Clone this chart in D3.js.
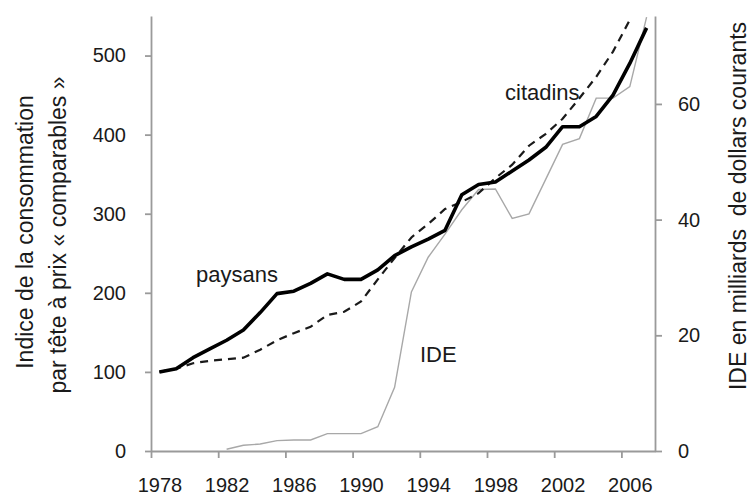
<!DOCTYPE html>
<html>
<head>
<meta charset="utf-8">
<script src="https://cdn.jsdelivr.net/npm/d3@7"></script>
<style>
  body { margin: 0; background: #fff; }
  svg text { font-family: "Liberation Sans", Arial, sans-serif; fill: #1a1a1a; }
  .axis path, .axis line { stroke: #9a9a9a; stroke-width: 1.8; }
  .axis text { font-size: 20px; }
  .title { font-size: 23px; white-space: pre; }
  .label { font-size: 22px; }
</style>
</head>
<body>
<svg id="chart"></svg>
<script>
// Data
var years = [1978, 1979, 1980, 1981, 1982, 1983, 1984, 1985, 1986, 1987,
             1988, 1989, 1990, 1991, 1992, 1993, 1994, 1995, 1996, 1997,
             1998, 1999, 2000, 2001, 2002, 2003, 2004, 2005, 2006, 2007];
var paysans = [100, 104, 118, 129, 140, 153, 175, 199, 202, 212,
               224, 217, 217, 229, 247, 258, 268, 279, 324, 337,
               340, 354, 368, 384, 410, 410, 423, 450, 490, 535];
var citadins = [100, 104, 111, 114, 116, 118, 128, 140, 149, 157,
                172, 176, 189, 217, 244, 270, 287, 306, 315, 326,
                345, 362, 386, 401, 420, 446, 473, 505, 545, null];
var ide = [null, null, null, null, 0.3, 1.0, 1.2, 1.8, 1.9, 1.9,
           3.0, 3.0, 3.0, 4.2, 11.0, 27.5, 33.5, 37.5, 41.7, 45.2,
           45.3, 40.2, 41.0, 47.0, 53.0, 54.0, 61.0, 61.0, 63.0, 75.0];

var xTickLabels = [1978, 1982, 1986, 1990, 1994, 1998, 2002, 2006];
var leftTicks = [0, 100, 200, 300, 400, 500];
var rightTicks = [0, 20, 40, 60];

var width = 753;
var height = 499;
var plot = {"left": 151, "right": 655, "top": 16, "bottom": 451};

var svg = d3.select("svg#chart")
  .attr("width", width)
  .attr("height", height);

// category axis: each year sits in the middle of its slot
var xScale = d3.scaleLinear()
  .domain([years[0] - 0.5, years[years.length - 1] + 0.5])
  .range([plot.left, plot.right]);

var yLeft = d3.scaleLinear()
  .domain([0, 550])
  .range([plot.bottom, plot.top]);

var yRight = d3.scaleLinear()
  .domain([0, 75.2])
  .range([plot.bottom, plot.top]);

// x axis: tick marks between categories, labels on the categories
svg.append("g")
  .attr("class", "axis")
  .attr("transform", "translate(0," + plot.bottom + ")")
  .call(d3.axisBottom(xScale)
    .tickValues(xTickLabels.map(function(d) { return d - 0.5; }))
    .tickSize(7)
    .tickSizeOuter(0)
    .tickFormat(""));

svg.append("g")
  .attr("class", "axis")
  .attr("transform", "translate(0," + plot.bottom + ")")
  .call(d3.axisBottom(xScale)
    .tickValues(xTickLabels)
    .tickSize(0)
    .tickPadding(27)
    .tickFormat(d3.format("d")))
  .call(function(g) { g.select(".domain").remove(); });

svg.append("g")
  .attr("class", "axis")
  .attr("transform", "translate(" + plot.left + ",0)")
  .call(d3.axisLeft(yLeft)
    .tickValues(leftTicks)
    .tickSize(6)
    .tickSizeOuter(0)
    .tickPadding(19));

svg.append("g")
  .attr("class", "axis")
  .attr("transform", "translate(" + plot.right + ",0)")
  .call(d3.axisRight(yRight)
    .tickValues(rightTicks)
    .tickSize(7)
    .tickSizeOuter(0)
    .tickPadding(16));

// lines
var lineLeft = function(values) {
  return d3.line()
    .defined(function(d) { return d != null; })
    .x(function(d, i) { return xScale(years[i]); })
    .y(function(d) { return yLeft(d); })(values);
};

svg.append("path")
  .attr("d", d3.line()
    .defined(function(d) { return d != null; })
    .x(function(d, i) { return xScale(years[i]); })
    .y(function(d) { return yRight(d); })(ide))
  .attr("fill", "none")
  .attr("stroke", "#a8a8a8")
  .attr("stroke-width", 1.4);

svg.append("path")
  .attr("d", lineLeft(citadins))
  .attr("fill", "none")
  .attr("stroke", "#1a1a1a")
  .attr("stroke-width", 2.2)
  .attr("stroke-dasharray", "8,6");

svg.append("path")
  .attr("d", lineLeft(paysans))
  .attr("fill", "none")
  .attr("stroke", "#000")
  .attr("stroke-width", 3.6)
  .attr("stroke-linejoin", "round");

// series labels
svg.append("text").attr("class", "label").attr("x", 196).attr("y", 282).text("paysans");
svg.append("text").attr("class", "label").attr("x", 505).attr("y", 100).text("citadins");
svg.append("text").attr("class", "label").attr("x", 420).attr("y", 362).text("IDE");

// axis titles
svg.append("text")
  .attr("class", "title")
  .attr("transform", "translate(33,232) rotate(-90)")
  .style("text-anchor", "middle")
  .text("Indice de la consommation");

svg.append("text")
  .attr("class", "title")
  .attr("transform", "translate(66,235) rotate(-90)")
  .style("text-anchor", "middle")
  .text("par tête à prix « comparables »");

svg.append("text")
  .attr("class", "title")
  .attr("transform", "translate(746,206) rotate(-90)")
  .style("text-anchor", "middle")
  .text("IDE en milliards  de dollars courants");
</script>
</body>
</html>
